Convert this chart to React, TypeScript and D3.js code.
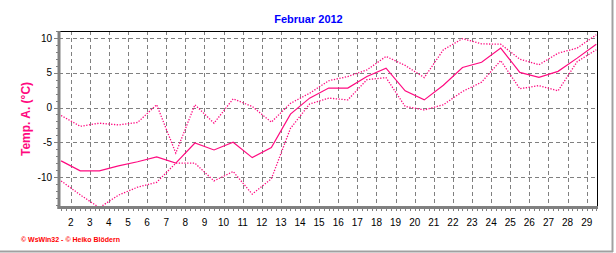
import React from "react";
import * as d3 from "d3";

const W = 616;
const H = 253;

const title = "Februar 2012";
const yTitle = "Temp. A. (°C)";
const credit = "© WsWin32  -  © Heiko Blödern";

const dayLabels = [2, 3, 4, 5, 6, 7, 8, 9, 10, 11, 12, 13, 14, 15, 16, 17, 18, 19, 20, 21, 22, 23, 24, 25, 26, 27, 28, 29];
const yTicks = [-10, -5, 0, 5, 10];

// daily values placed at mid-day
const pointDays = [1.5, 2.5, 3.5, 4.5, 5.5, 6.5, 7.5, 8.5, 9.5, 10.5, 11.5, 12.5, 13.5, 14.5, 15.5, 16.5, 17.5, 18.5, 19.5, 20.5, 21.5, 22.5, 23.5, 24.5, 25.5, 26.5, 27.5, 28.5, 29.5];
const tMax = [-1.15, -2.7, -2.25, -2.5, -2.15, 0.4, -6.55, 0.4, -2.25, 1.25, 0.15, -2.1, 0.6, 2.05, 3.85, 4.45, 5.4, 7.35, 6.05, 4.3, 8.3, 9.9, 9.15, 9.1, 6.95, 6.15, 7.8, 8.55, 10.45];
const tMean = [-7.67, -9.1, -9.1, -8.4, -7.8, -7.1, -8.0, -5.1, -6.1, -5.0, -7.2, -5.75, -0.95, 1.35, 2.8, 2.8, 4.45, 5.65, 2.4, 1.1, 3.2, 5.75, 6.5, 8.55, 5.05, 4.35, 5.2, 7.1, 9.1];
const tMin = [-10.55, -12.55, -14.4, -12.6, -11.45, -10.75, -8.0, -8.0, -10.55, -9.2, -12.45, -10.25, -3.0, 0.5, 1.35, 1.1, 4.0, 4.3, 0.15, -0.35, 0.4, 2.3, 3.65, 6.75, 2.7, 3.15, 2.4, 6.6, 8.3];

const PINK = "#ff0a80";
const FONT = "'Liberation Sans', Arial, sans-serif";

export default function App() {
  const left = 59, right = 598, top = 31, bottom = 207;
  const x = d3.scaleLinear().domain([1.39, 29.59]).range([left, right]);
  const y = d3.scaleLinear().domain([-14.3, 11]).range([bottom, top]);

  const line = d3
    .line<number>()
    .x((_, i) => x(pointDays[i]))
    .y((v) => y(v));

  const xMinor: number[] = [];
  for (let k = Math.ceil(1.39 * 4); k / 4 <= 29.59; k++) xMinor.push(k / 4);
  const yMinor: number[] = [];
  for (let v = -14; v <= 11; v++) yMinor.push(v);

  return (
    <svg width={W} height={H} style={{ position: "absolute", left: 0, top: 0, background: "#fff" }}>
      <rect x={0} y={0} width={W} height={H} fill="#fff" />
      {/* outer panel border */}
      <line x1={612.5} y1={0} x2={612.5} y2={252} stroke="#a0a0a0" strokeWidth={2} />
      <line x1={0} y1={251.5} x2={613} y2={251.5} stroke="#a0a0a0" strokeWidth={2} />

      <text x={308.5} y={22.5} textAnchor="middle" fontFamily={FONT} fontWeight="bold" fontSize={11} fill="#0000ff">
        {title}
      </text>

      {/* grid */}
      {dayLabels.map((d) => (
        <line key={"gx" + d} x1={Math.round(x(d)) + 0.5} x2={Math.round(x(d)) + 0.5} y1={top} y2={bottom} stroke="#808080" strokeDasharray="4,3" />
      ))}
      {yTicks.map((v) => (
        <line key={"gy" + v} x1={left} x2={right} y1={Math.round(y(v)) + 0.5} y2={Math.round(y(v)) + 0.5} stroke="#808080" strokeDasharray="4,3" />
      ))}

      {/* frame */}
      <line x1={left} x2={right} y1={top + 0.5} y2={top + 0.5} stroke="#000" />
      <line x1={right - 0.5} x2={right - 0.5} y1={top} y2={bottom} stroke="#000" />

      {/* data */}
      <path d={line(tMax) || ""} fill="none" stroke={PINK} strokeWidth={1.3} strokeDasharray="1.3,1.5" />
      <path d={line(tMin) || ""} fill="none" stroke={PINK} strokeWidth={1.3} strokeDasharray="1.3,1.5" />
      <path d={line(tMean) || ""} fill="none" stroke={PINK} strokeWidth={1.2} />

      {/* axes */}
      <line x1={left} x2={left} y1={top} y2={bottom + 2} stroke="#808080" strokeWidth={3} />
      <line x1={left - 1.5} x2={right} y1={bottom + 0.5} y2={bottom + 0.5} stroke="#808080" strokeWidth={3} />
      {xMinor.map((d) => (
        <line key={"xt" + d} x1={Math.round(x(d)) + 0.5} x2={Math.round(x(d)) + 0.5} y1={bottom + 2} y2={bottom + 4} stroke="#808080" />
      ))}
      {yMinor.map((v) => (
        <line key={"ym" + v} x1={left - (v % 5 === 0 ? 5 : 3)} x2={left} y1={Math.round(y(v)) + 0.5} y2={Math.round(y(v)) + 0.5} stroke="#808080" />
      ))}

      {dayLabels.map((d) => (
        <text key={"xl" + d} x={x(d)} y={225.5} textAnchor="middle" fontFamily={FONT} fontSize={10} fill="#000">
          {d}
        </text>
      ))}
      {yTicks.map((v) => (
        <text key={"yl" + v} x={52} y={y(v) + 3.6} textAnchor="end" fontFamily={FONT} fontSize={10} fill="#000">
          {v}
        </text>
      ))}

      <text
        transform={`translate(30,119) rotate(-90)`}
        textAnchor="middle"
        fontFamily={FONT}
        fontWeight="bold"
        fontSize={12}
        fill={PINK}
      >
        {yTitle}
      </text>

      <text x={21} y={242} fontFamily={FONT} fontSize={7} fontWeight="bold" fill="#ff0000">
        {credit}
      </text>
    </svg>
  );
}
